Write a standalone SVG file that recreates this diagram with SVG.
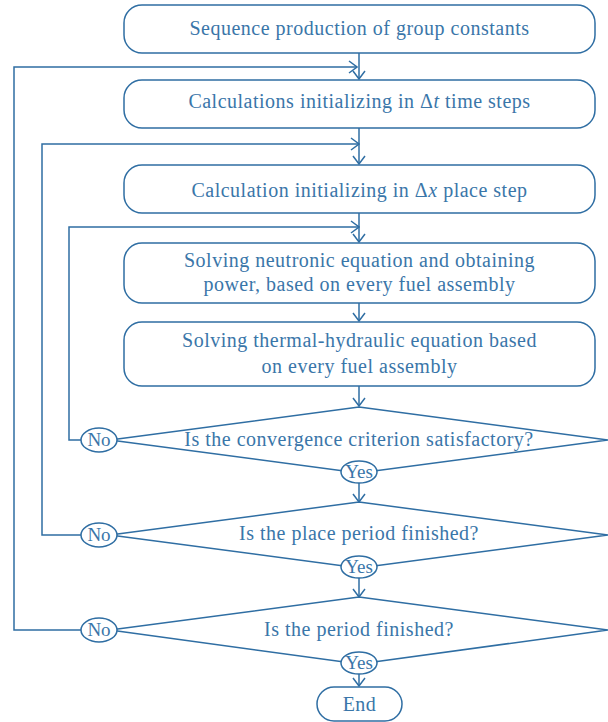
<svg xmlns="http://www.w3.org/2000/svg" width="608" height="722" viewBox="0 0 608 722">
<style>
.b{fill:#fff;stroke:#2f6ea3;stroke-width:1.5}
.c{fill:none;stroke:#2f6ea3;stroke-width:1.5}
.t{font-family:"Liberation Serif",serif;font-size:20px;fill:#3a76a9;text-anchor:middle;letter-spacing:0.5px}
.s{font-family:"Liberation Serif",serif;font-size:19px;fill:#3a76a9;text-anchor:middle}
</style>
<defs>
<marker id="ah" markerUnits="userSpaceOnUse" viewBox="0 0 10 14" refX="9" refY="7" markerWidth="10" markerHeight="14" orient="auto">
<path d="M1,1 L9,7 L1,13" fill="none" stroke="#2f6ea3" stroke-width="1.5"/>
</marker>
</defs>
<rect width="608" height="722" fill="#fff"/>
<g id="connectors">
<path class="c" d="M359,53 V79" marker-end="url(#ah)"/>
<path class="c" d="M359,128 V164" marker-end="url(#ah)"/>
<path class="c" d="M359,213 V242" marker-end="url(#ah)"/>
<path class="c" d="M359,303 V321" marker-end="url(#ah)"/>
<path class="c" d="M359,386 V406" marker-end="url(#ah)"/>
<path class="c" d="M359,482 V502" marker-end="url(#ah)"/>
<path class="c" d="M359,577 V597" marker-end="url(#ah)"/>
<path class="c" d="M359,673 V686" marker-end="url(#ah)"/>
<path class="c" d="M81,630 H14 V67 H357" marker-end="url(#ah)"/>
<path class="c" d="M81,535 H42 V144 H359" marker-end="url(#ah)"/>
<path class="c" d="M81,440 H69 V227 H359" marker-end="url(#ah)"/>
</g>
<g id="n1">
<rect class="b" x="124" y="5" width="471" height="48" rx="18"/>
<text class="t" x="359.5" y="35">Sequence production of group constants</text>
</g>
<g id="n2">
<rect class="b" x="124" y="80" width="471" height="48" rx="18"/>
<text class="t" x="359.5" y="108">Calculations initializing in Δ<tspan font-style="italic">t</tspan> time steps</text>
</g>
<g id="n3">
<rect class="b" x="124" y="165" width="471" height="48" rx="18"/>
<text class="t" x="359.5" y="197">Calculation initializing in Δ<tspan font-style="italic">x</tspan> place step</text>
</g>
<g id="n4">
<rect class="b" x="124" y="243" width="471" height="60" rx="18"/>
<text class="t" x="359.5" y="267">Solving neutronic equation and obtaining</text>
<text class="t" x="359.5" y="291">power, based on every fuel assembly</text>
</g>
<g id="n5">
<rect class="b" x="124" y="322" width="471" height="64" rx="18"/>
<text class="t" x="359.5" y="347">Solving thermal-hydraulic equation based</text>
<text class="t" x="359.5" y="373">on every fuel assembly</text>
</g>
<g id="d1">
<polygon class="b" points="359,407 608,440 359,473 110,440"/>
<text class="t" x="359" y="446">Is the convergence criterion satisfactory?</text>
<ellipse class="b" cx="99" cy="440" rx="18" ry="12"/>
<text class="s" x="99" y="446">No</text>
<ellipse class="b" cx="359" cy="472" rx="18" ry="11"/>
<text class="s" x="359" y="478">Yes</text>
</g>
<g id="d2">
<polygon class="b" points="359,502 608,535 359,568 110,535"/>
<text class="t" x="359" y="540">Is the place period finished?</text>
<ellipse class="b" cx="99" cy="535" rx="18" ry="12"/>
<text class="s" x="99" y="541">No</text>
<ellipse class="b" cx="359" cy="567" rx="18" ry="11"/>
<text class="s" x="359" y="573">Yes</text>
</g>
<g id="d3">
<polygon class="b" points="359,597 608,630 359,664 110,630"/>
<text class="t" x="359" y="636">Is the period finished?</text>
<ellipse class="b" cx="99" cy="630" rx="18" ry="12"/>
<text class="s" x="99" y="636">No</text>
<ellipse class="b" cx="359" cy="663" rx="18" ry="11"/>
<text class="s" x="359" y="669">Yes</text>
</g>
<g id="end">
<rect class="b" x="317" y="687" width="85" height="34" rx="17"/>
<text class="t" x="359.5" y="711">End</text>
</g>
</svg>
